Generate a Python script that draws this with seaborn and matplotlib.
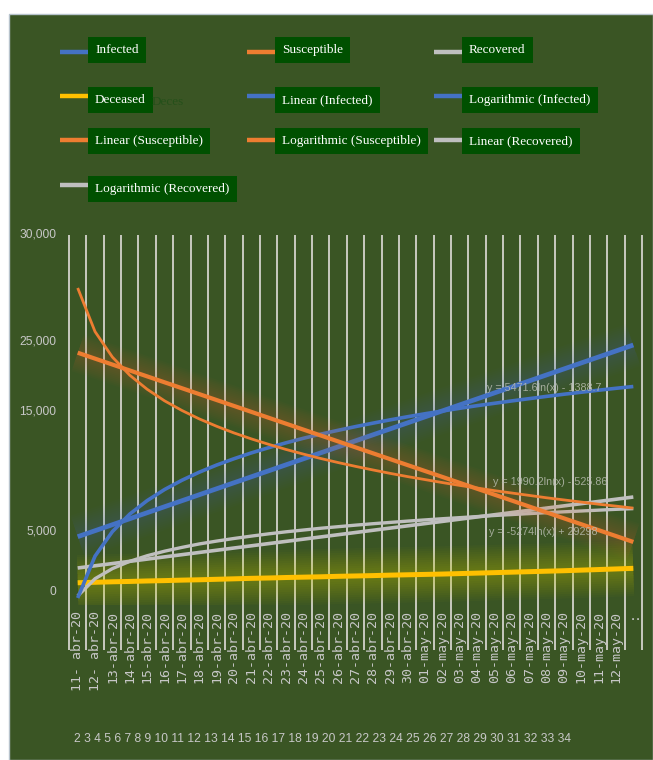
import matplotlib
matplotlib.use("Agg")
import matplotlib.pyplot as plt
import matplotlib.patheffects as pe
from matplotlib import font_manager as fm
from matplotlib.lines import Line2D
from matplotlib.patches import Rectangle
import seaborn as sns
import pandas as pd
import numpy as np

# ---------------- data ----------------
dates = ([f"{d:02d}-abr-20" for d in range(11, 31)] +
         [f"{d:02d}-may-20" for d in range(1, 14)])
tick_labels = (["11- abr-20", "12- abr-20"] +
               [f"{d:02d}-abr-20" for d in range(13, 31)] +
               [f"{d:02d}-may-20" for d in range(1, 13)] + [":"])

infected_log = [-670, 2850, 4910, 6380, 7510, 8440, 9220, 9900, 10500, 11030,
                11520, 11960, 12370, 12750, 13100, 13420, 13730, 14020, 14300,
                14560, 14810, 15040, 15270, 15490, 15690, 15890, 16080, 16270,
                16450, 16620, 16790, 16950, 17100]
infected_lin = [4480, 4983, 5487, 5990, 6494, 6997, 7500, 8004, 8507, 9011,
                9514, 10017, 10521, 11024, 11528, 12031, 12534, 13038, 13541,
                14045, 14548, 15051, 15555, 16058, 16562, 17065, 17568, 18072,
                18575, 19079, 19582, 20085, 20589]
suscept_log = [25380, 21710, 19570, 18050, 16870, 15900, 15090, 14380, 13760,
               13200, 12700, 12240, 11810, 11420, 11050, 10710, 10390, 10090,
               9800, 9530, 9280, 9030, 8790, 8570, 8350, 8150, 7950, 7750,
               7570, 7390, 7210, 7050, 6880]
suscept_lin = [19940, 19443, 18946, 18449, 17952, 17455, 16959, 16462, 15965,
               15468, 14971, 14474, 13977, 13480, 12983, 12486, 11989, 11492,
               10995, 10498, 10001, 9504, 9007, 8510, 8013, 7516, 7019, 6522,
               6025, 5528, 5031, 4534, 4037]
recov_log = [-500, 950, 1800, 2410, 2880, 3260, 3580, 3870, 4110, 4330, 4530,
             4720, 4890, 5040, 5190, 5320, 5450, 5570, 5680, 5790, 5890, 5990,
             6080, 6170, 6260, 6340, 6420, 6500, 6570, 6640, 6710, 6780, 6840]
recov_lin = [1850, 2036, 2223, 2409, 2596, 2782, 2968, 3155, 3341, 3528, 3714,
             3900, 4087, 4273, 4460, 4646, 4832, 5019, 5205, 5392, 5578, 5764,
             5951, 6137, 6324, 6510, 6696, 6883, 7069, 7256, 7442, 7628, 7815]
deceased = [610, 650, 690, 720, 760, 790, 830, 860, 900, 940, 980, 1010, 1050,
            1080, 1110, 1150, 1180, 1210, 1250, 1280, 1310, 1340, 1380, 1420,
            1460, 1500, 1540, 1580, 1620, 1670, 1720, 1770, 1820]

ytick_vals = [0, 5040, 15120, 21010, 30000]
ytick_labels = ["0", "5,000", "15,000", "25,000", "30,000"]

legend_labels = ["Infected", "Susceptible", "Recovered",
                 "Deceased", "Linear (Infected)", "Logarithmic (Infected)",
                 "Linear (Susceptible)", "Logarithmic (Susceptible)", "Linear (Recovered)",
                 "Logarithmic (Recovered)"]
equations = ["y = 5471.6ln(x) - 1388.7", "y = 1990.2ln(x) - 525.86",
             "y = -5274ln(x) + 29298"]
index_row = " ".join(str(n) for n in range(2, 35))

# ---------------- style ----------------
BLUE, ORANGE, GREY, YELLOW = "#4472C4", "#ED7D31", "#BFBFBF", "#FFC000"
BG = "#3a5524"
TXT = "#c8c8c8"
sns.set_theme(style="dark")
names = {f.name for f in fm.fontManager.ttflist}
NARROW = "Liberation Sans Narrow" if "Liberation Sans Narrow" in names else "Liberation Sans"
narrow_scale = 1.0 if NARROW == "Liberation Sans Narrow" else 0.82
plt.rcParams["font.family"] = ["DejaVu Sans"]

W, H = 653, 760
fig = plt.figure(figsize=(W / 100, H / 100), dpi=100, facecolor="white")
bg = Rectangle((9 / W, 0), (W - 9) / W, (H - 14) / H,
               transform=fig.transFigure, fc=BG, ec="#b7c3cc", lw=1, zorder=-10)
fig.patches.append(bg)

ax = fig.add_axes([69 / W, 1 - 605 / H, (642 - 69) / W, (605 - 233) / H])
ax.set_zorder(1)
ax.set_facecolor("none")
ax.patch.set_alpha(0)
for s in ax.spines.values():
    s.set_visible(False)
ax.grid(False)

n = len(dates)
df = pd.DataFrame({
    "pos": np.arange(n), "date": dates,
    "infected_log": infected_log, "infected_lin": infected_lin,
    "suscept_log": suscept_log, "suscept_lin": suscept_lin,
    "recov_log": recov_log, "recov_lin": recov_lin, "deceased": deceased,
})

# vertical grid lines at category boundaries
ax.vlines(np.arange(n + 1) - 0.5, -5040, 29800, colors="#c8cac0", lw=1.4,
          clip_on=False, zorder=1)


def glow(color, wmax, steps=10, alpha=0.028):
    widths = np.linspace(wmax, 5, steps)
    return [pe.Stroke(linewidth=w, foreground=color, alpha=alpha) for w in widths] + [pe.Normal()]


series = [
    ("deceased", YELLOW, 3.6, glow("#d8d000", 40, 12, 0.03)),
    ("recov_lin", GREY, 2.6, None),
    ("recov_log", GREY, 2.4, None),
    ("infected_lin", BLUE, 3.4, glow(BLUE, 32, 10, 0.025)),
    ("infected_log", BLUE, 2.6, None),
    ("suscept_lin", ORANGE, 3.0, glow(ORANGE, 28, 10, 0.022)),
    ("suscept_log", ORANGE, 2.0, None),
]
for col, c, lw, effects in series:
    sns.lineplot(data=df, x="pos", y=col, ax=ax, color=c, lw=lw, zorder=3,
                 legend=False)
    line = ax.lines[-1]
    line.set_solid_capstyle("butt")
    line.set_solid_joinstyle("round")
    if effects:
        line.set_path_effects(effects)

ax.set_xlim(-0.5, n - 0.5)
ax.set_ylim(-1260, 30000)
ax.set_xlabel("")
ax.set_ylabel("")
ax.set_xticks(np.arange(n))
ax.set_xticklabels(tick_labels, rotation=90, family="DejaVu Sans Mono",
                   fontsize=9.5, color=TXT)
ax.set_yticks(ytick_vals)
ax.set_yticklabels(ytick_labels, family=NARROW, fontsize=10.5 * narrow_scale,
                   color=TXT)
ax.tick_params(axis="x", length=0, pad=4)
ax.tick_params(axis="y", length=0, pad=9)

# trendline equations
eq_pos = [(23.6, 16974), (23.9, 9075), (23.7, 4874)]
for (xp, yp), t in zip(eq_pos, equations):
    ax.text(xp, yp, t, family=NARROW, fontsize=9.5 * narrow_scale,
            color="#b8bcb0", alpha=0.85, va="center", ha="left", zorder=4)

# index row at bottom
fig.text(74 / W, 1 - 739 / H, index_row, family=NARROW,
         fontsize=10.5 * narrow_scale, color=TXT, va="center", ha="left")

# manual legend
leg_colors = [BLUE, ORANGE, GREY, YELLOW, BLUE, BLUE, ORANGE, ORANGE, GREY, GREY]
handle_y = [52, 96, 140, 185]
text_y = [50, 100, 141, 189]
for k, (lab, c) in enumerate(zip(legend_labels, leg_colors)):
    r, ccol = divmod(k, 3)
    x0 = 60 + 187 * ccol
    hy = 1 - handle_y[r] / H
    fig.add_artist(Line2D([x0 / W, (x0 + 28) / W], [hy, hy], color=c, lw=3.2,
                          transform=fig.transFigure, solid_capstyle="butt"))
    fig.text((x0 + 35) / W, 1 - text_y[r] / H, lab, family="Liberation Serif",
             fontsize=9.5, color="white", va="center", ha="left",
             bbox=dict(boxstyle="square,pad=0.55", fc="#005000", ec="none"))
fig.text(152 / W, 1 - 102 / H, "Deces", family="Liberation Serif", fontsize=9.5,
         color="#25501a", va="center", ha="left")

fig.savefig("out.png", dpi=100, facecolor=fig.get_facecolor())
